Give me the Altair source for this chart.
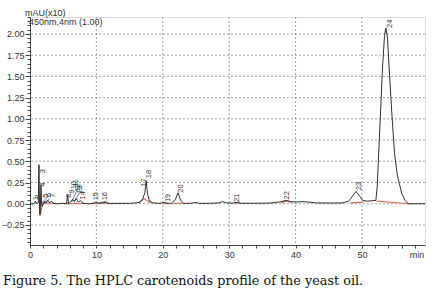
import altair as alt
import pandas as pd

# ---- chromatogram trace (retention time in min, absorbance mAU x10) ----
trace_t = [0.0, 0.6, 0.8, 1.0, 1.25, 1.35, 1.42, 1.5, 1.58, 1.65, 1.75, 1.85, 2.0, 2.2, 2.45,
           2.7, 2.95, 3.2, 3.5, 4.0, 5.0, 5.5, 5.65, 5.8, 6.1, 6.4, 6.7, 6.95, 7.3, 7.6, 8.0,
           9.0, 9.6, 9.9, 10.3, 11.0, 11.4, 11.9, 13.0, 15.0, 16.0, 16.6, 17.0, 17.3, 17.5,
           17.7, 18.0, 18.5, 19.5, 20.3, 20.6, 21.3, 21.9, 22.3, 22.7, 23.1, 24.0, 25.0, 25.5,
           27.0, 28.5, 29.0, 29.6, 30.5, 31.2, 31.8, 34.0, 36.0, 37.5, 38.6, 39.3, 40.0, 41.0,
           42.0, 43.0, 45.0, 47.0, 48.0, 48.7, 49.1, 49.6, 50.1, 50.8, 51.5, 52.1, 52.3, 52.5,
           52.8, 53.1, 53.4, 53.6, 53.85, 54.1, 54.5, 54.9, 55.3, 55.6, 56.0, 56.5, 57.0, 59.5]
trace_v = [0.0, 0.0, 0.03, 0.005, 0.01, 0.46, 0.02, -0.13, 0.0, 0.22, 0.0, -0.03, 0.0, 0.03, 0.01,
           0.04, 0.01, 0.03, 0.005, 0.0, 0.005, 0.0, 0.10, 0.0, 0.02, 0.05, 0.03, 0.06, 0.02, 0.035, 0.005,
           0.0, 0.005, 0.02, 0.005, 0.01, 0.02, 0.003, 0.005, 0.005, 0.01, 0.02, 0.06, 0.13, 0.27,
           0.12, 0.03, 0.01, 0.005, 0.015, 0.005, 0.005, 0.05, 0.13, 0.04, 0.005, 0.005, 0.015, 0.005,
           0.005, 0.01, 0.025, 0.01, 0.008, 0.015, 0.006, 0.006, 0.008, 0.02, 0.04, 0.025, 0.02, 0.025,
           0.02, 0.01, 0.008, 0.01, 0.03, 0.10, 0.145, 0.10, 0.04, 0.03, 0.035, 0.04, 0.2, 0.55,
           1.07, 1.6, 1.98, 2.07, 1.95, 1.6, 1.07, 0.6, 0.35, 0.25, 0.12, 0.04, 0.0, 0.0]

# ---- integration baselines (red) and markers (blue) ----
red_id = ["a", "a", "a", "b", "b", "c", "c", "d", "d", "e", "e", "f", "f", "f", "g", "g",
          "h", "h", "i", "i", "i", "j", "j", "j", "k", "k", "l", "l"]
red_t = [1.45, 1.52, 1.9, 2.0, 3.6, 5.4, 8.2, 9.4, 10.6, 10.9, 11.9, 16.4, 17.2, 18.2, 20.0, 20.8,
         21.5, 23.0, 30.8, 31.2, 31.7, 37.8, 38.6, 39.4, 48.2, 50.2, 52.2, 57.2]
red_v = [-0.02, -0.14, 0.0, 0.0, 0.01, 0.0, 0.005, 0.005, 0.005, 0.005, 0.005, 0.01, 0.06, 0.01,
         0.005, 0.005, 0.005, 0.005, 0.006, 0.015, 0.006, 0.01, 0.03, 0.015, 0.01, 0.02, 0.03, 0.0]

blue_id = ["a", "a", "b", "b", "c", "c", "d", "d", "e", "e"]
blue_t = [1.7, 2.6, 1.9, 3.0, 6.3, 7.3, 6.6, 7.6, 10.5, 11.5]
blue_v = [0.0, 0.08, 0.0, 0.06, 0.02, 0.2, 0.02, 0.14, 0.01, 0.03]

# ---- peak numbers ----
peak_no = [str(i) for i in range(1, 25)]
peak_t = [0.9, 1.2, 1.9, 2.0, 2.4, 2.9, 3.4, 5.9, 6.3, 6.6, 7.0, 7.3, 7.6, 8.0, 9.9, 11.3,
          17.2, 18.0, 20.8, 22.7, 31.2, 38.7, 49.5, 54.2]
peak_v = [0.04, 0.06, 0.36, 0.2, 0.07, 0.08, 0.07, 0.07, 0.12, 0.17, 0.2, 0.14, 0.12, 0.05,
          0.04, 0.04, 0.2, 0.3, 0.02, 0.13, 0.02, 0.05, 0.16, 2.07]

# ---- axes / grid ----
x_ticks = [0, 2, 4, 6, 8, 10, 12, 14, 16, 18, 20, 22, 24, 26, 28, 30, 32, 34, 36, 38, 40,
           42, 44, 46, 48, 50, 52, 54, 56, 58]
y_ticks = [round(-0.45 + 0.05 * i, 2) for i in range(54)]
x_grid = [10, 20, 30, 40, 50]
y_grid = [-0.25, 0.0, 0.25, 0.5, 0.75, 1.0, 1.25, 1.5, 1.75, 2.0]

W, H = 395, 228
xs = alt.Scale(domain=[0, 59.5], nice=False, zero=False)
ys = alt.Scale(domain=[-0.486, 2.2], nice=False, zero=False)

major_test = "abs(datum.value*4 - round(datum.value*4)) < 0.001"
x_axis = alt.Axis(values=x_ticks, labelExpr="datum.value % 10 == 0 ? datum.label : ''",
                  title=None, grid=False, tickSize=3, labelPadding=2, labelFont="Liberation Sans",
                  labelFontSize=9, labelColor="#333", tickColor="#444", domainColor="#444",
                  labelOverlap=False, labelFlush=False, labelBound=False)
y_axis = alt.Axis(values=y_ticks, labelExpr=major_test + " ? format(datum.value, '.2f') : ''",
                  title=None, grid=False,
                  tickSize={"condition": {"test": major_test, "value": 5}, "value": 3},
                  labelPadding=1, labelFont="Liberation Sans", labelFontSize=9, labelColor="#333",
                  tickColor="#444", domainColor="#444",
                  labelOverlap=False, labelFlush=False, labelBound=False)

trace = pd.DataFrame({"t": trace_t, "v": trace_v})
red = pd.DataFrame({"seg": red_id, "t": red_t, "v": red_v})
blue = pd.DataFrame({"seg": blue_id, "t": blue_t, "v": blue_v})
peaks = pd.DataFrame({"n": peak_no, "t": peak_t, "v": peak_v})

def X(f):
    return alt.X(f, scale=xs, axis=x_axis)

def Y(f):
    return alt.Y(f, scale=ys, axis=y_axis)

grid_style = dict(color="#8a8a8a", strokeDash=[2, 2], strokeWidth=0.8)
vgrid = alt.Chart(pd.DataFrame({"g": x_grid})).mark_rule(**grid_style).encode(x=X("g:Q"))
hgrid = alt.Chart(pd.DataFrame({"g": y_grid})).mark_rule(**grid_style).encode(y=Y("g:Q"))

red_layer = alt.Chart(red).mark_line(color="#d9735f", strokeWidth=1.2, clip=True).encode(
    x=X("t:Q"), y=Y("v:Q"), detail="seg:N")
blue_layer = alt.Chart(blue).mark_line(color="#4a5ab0", strokeWidth=0.8, clip=True).encode(
    x=X("t:Q"), y=Y("v:Q"), detail="seg:N")
line = alt.Chart(trace).mark_line(color="#1a1a1a", strokeWidth=0.9, clip=True).encode(
    x=X("t:Q"), y=Y("v:Q"), order="t:Q")
labels = alt.Chart(peaks).mark_text(angle=270, align="left", baseline="middle", fontSize=7.5,
                                    font="Liberation Sans", color="#333").encode(
    x=X("t:Q"), y=Y("v:Q"), text="n:N")

unit = alt.Chart(pd.DataFrame({"s": ["mAU(x10)"]})).mark_text(
    align="left", baseline="alphabetic", fontSize=9, font="Liberation Sans", color="#333").encode(
    x=alt.value(-5), y=alt.value(-1), text="s:N")
det = alt.Chart(pd.DataFrame({"s": ["450nm,4nm (1.00)"]})).mark_text(
    align="left", baseline="alphabetic", fontSize=9, font="Liberation Sans", color="#333").encode(
    x=alt.value(-1), y=alt.value(8), text="s:N")
minlab = alt.Chart(pd.DataFrame({"s": ["min"]})).mark_text(
    align="center", baseline="middle", fontSize=9, font="Liberation Sans", color="#333").encode(
    x=alt.value(387), y=alt.value(H + 10), text="s:N")
caption = alt.Chart(pd.DataFrame({"s": ["Figure 5. The HPLC carotenoids profile of the yeast oil."]})).mark_text(
    align="left", baseline="alphabetic", fontSize=12.8, font="DejaVu Serif", color="#111").encode(
    x=alt.value(-27), y=alt.value(268), text="s:N")

chart = alt.layer(vgrid, hgrid, red_layer, blue_layer, line, labels, unit, det, minlab, caption).properties(
    width=W, height=H,
    autosize=alt.AutoSizeParams(type="none"),
    padding={"left": 30, "top": 17, "right": 23, "bottom": 50},
).configure_view(stroke="#555", strokeWidth=1).configure_axis(
    labelOverlap=False, labelFlush=False
).configure(background="white")

chart.save("out.html", embed_options={"renderer": "svg", "actions": False})
